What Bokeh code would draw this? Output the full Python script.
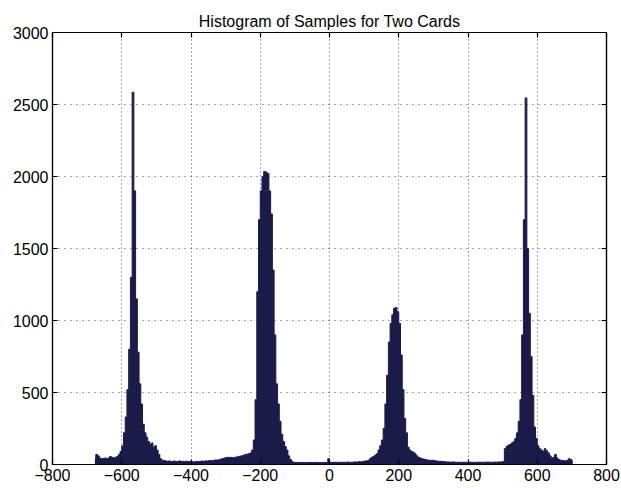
import numpy as np
from bokeh.plotting import figure
from bokeh.models import LinearAxis, FixedTicker, Range1d, CustomJSTickFormatter
from bokeh.embed import file_html
from bokeh.resources import INLINE

# ---- data: histogram counts, bins of width 5 starting at -680 ----
bin_start = -680
bin_width = 5

# -680 .. -400
counts_a = [40, 70, 60, 45, 40, 42, 45, 40, 45, 55, 50, 45, 50, 55, 70, 90,
            130, 220, 330, 520, 800, 1300, 2585, 1900, 1150, 780, 560, 420,
            280, 220, 190, 160, 140, 150, 120, 130, 100, 70, 40, 30,
            28, 25, 22, 25, 20, 22, 24, 20, 22, 25, 20, 22, 20, 23, 20, 22]
# -400 .. 0
counts_b = [20, 18, 20, 22, 20, 22, 24, 22, 25, 24, 26, 28, 26, 30, 32, 30,
            34, 38, 42, 45, 48, 50, 48, 50, 46, 50, 52, 55, 58, 60, 65, 70,
            72, 75, 80, 100, 170, 450, 1200, 1700, 1900, 2000, 2035, 2030,
            2020, 1900, 1740, 1350, 900, 560, 420, 300, 210, 160, 125, 100,
            60, 35, 20, 15, 14, 15, 13, 14, 15, 12, 14, 13, 15, 14, 13, 14,
            15, 13, 14, 12, 14, 15, 13, 40]
# 0 .. 400
counts_c = [15, 14, 15, 16, 15, 14, 16, 15, 16, 15, 17, 16, 15, 16, 18, 17,
            18, 20, 18, 22, 24, 25, 28, 40, 50, 55, 65, 75, 100, 130, 170,
            250, 420, 620, 850, 980, 1040, 1085, 1090, 1060, 980, 760, 520,
            320, 220, 120, 100, 90, 85, 75, 60, 50, 45, 40, 38, 35, 32, 30,
            28, 30, 27, 25, 24, 22, 22, 20, 20, 18, 18, 17, 16, 18, 16, 15,
            16, 15, 14, 16, 15, 15]
# 400 .. 705
counts_d = [15, 16, 15, 14, 16, 15, 16, 15, 16, 15, 16, 17, 16, 15, 16, 17,
            16, 18, 17, 18, 20, 110, 125, 135, 140, 150, 160, 180, 220, 300,
            450, 900, 1700, 2546, 1500, 1050, 750, 480, 260, 180, 130, 110,
            100, 90, 110, 95, 80, 60, 45, 50, 70, 45, 35, 30, 28, 26, 25, 30,
            40, 35, 25]

x_ticks = [-800, -600, -400, -200, 0, 200, 400, 600, 800]
y_ticks = [0, 500, 1000, 1500, 2000, 2500, 3000]
title_text = "Histogram of Samples for Two Cards"

counts = np.array(counts_a + counts_b + counts_c + counts_d, dtype=float)
centers = bin_start + bin_width * (np.arange(len(counts)) + 0.5)

FONT = "Liberation Sans"
NAVY = "#1b1b4a"

p = figure(frame_width=554, frame_height=432, output_backend="svg",
           toolbar_location=None, x_range=Range1d(-800, 800),
           y_range=Range1d(0, 3000), min_border_left=52, min_border_right=15,
           min_border_top=32, min_border_bottom=24,
           x_axis_location=None, y_axis_location=None)

# solid histogram: filled step area plus matching outline
p.varea_step(x=centers, y1=0, y2=counts, step_mode="center",
             fill_color=NAVY)
p.step(x=centers, y=counts, mode="center", line_color=NAVY, line_width=1)

p.title.text = title_text
p.title.align = "center"
p.title.text_font = FONT
p.title.text_font_size = "16px"
p.title.text_font_style = "normal"
p.title.text_color = "black"
p.title.standoff = 6

fmt = CustomJSTickFormatter(code="return tick < 0 ? '\u2212' + Math.abs(tick) : '' + tick;")
blank = CustomJSTickFormatter(code="return '';")

def make_axis(ticks, labels):
    ax = LinearAxis(ticker=FixedTicker(ticks=ticks))
    ax.major_tick_in = 5
    ax.major_tick_out = 0
    ax.minor_tick_in = 0
    ax.minor_tick_out = 0
    ax.axis_line_color = "black"
    ax.axis_line_width = 1.2
    ax.major_tick_line_color = "black"
    ax.major_tick_line_width = 1.2
    if labels:
        ax.formatter = fmt
        ax.major_label_text_font = FONT
        ax.major_label_text_font_size = "16px"
        ax.major_label_text_color = "black"
        ax.major_label_standoff = 4
    else:
        ax.formatter = blank
        ax.major_label_standoff = 0
    return ax

p.add_layout(make_axis(x_ticks, True), "below")
p.add_layout(make_axis(y_ticks, True), "left")
p.add_layout(make_axis(x_ticks, False), "above")
p.add_layout(make_axis(y_ticks, False), "right")

p.xgrid.ticker = FixedTicker(ticks=x_ticks)
p.ygrid.ticker = FixedTicker(ticks=y_ticks)
p.xgrid.grid_line_color = "#222222"
p.ygrid.grid_line_color = "#222222"
p.xgrid.grid_line_dash = "1 3"
p.ygrid.grid_line_dash = "1 5"
p.xgrid.grid_line_alpha = 0.8
p.ygrid.grid_line_alpha = 0.8
p.outline_line_color = "black"
p.outline_line_width = 1.2
p.background_fill_color = "white"
p.border_fill_color = "white"

open("out.html", "w").write(file_html(p, INLINE))
